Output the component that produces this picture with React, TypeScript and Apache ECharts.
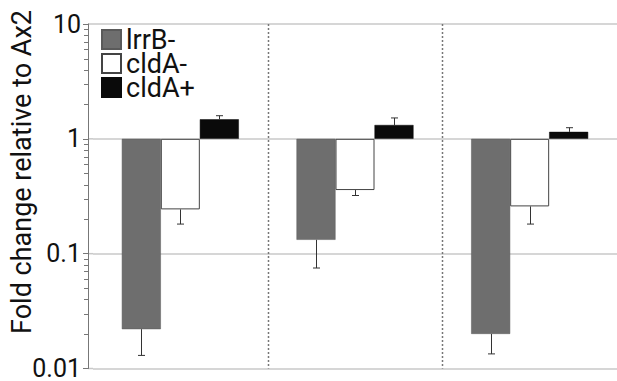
import React, { useEffect, useRef } from "react";
import * as echarts from "echarts";

const categories = ["Group 1", "Group 2", "Group 3"];
const seriesNames = ["lrrB-", "cldA-", "cldA+"];
const lrrBMinus = [0.022, 0.132, 0.02];
const lrrBMinusErr = [0.013, 0.075, 0.0134];
const cldAMinus = [0.243, 0.358, 0.258];
const cldAMinusErr = [0.181, 0.321, 0.181];
const cldAPlus = [1.48, 1.32, 1.15];
const cldAPlusErr = [1.59, 1.52, 1.25];
const yTickLabels = ["0.01", "0.1", "1", "10"];
const majorTicks = [0.01, 0.1, 1, 10];
const minorMultipliers = [2, 3, 4, 5, 6, 7, 8, 9];
const decades = [0.01, 0.1, 1];

const FONT = "Roboto";
const BAR_W = 39;
const AXIS_OFFSET = 5;

export default function App() {
  const ref = useRef<HTMLDivElement>(null);
  useEffect(() => {
    if (!ref.current) return;
    const chart = echarts.init(ref.current, null, { renderer: "svg" });

    const values = [lrrBMinus, cldAMinus, cldAPlus];
    const errs = [lrrBMinusErr, cldAMinusErr, cldAPlusErr];
    const errData: number[][] = [];
    values.forEach((arr, s) => {
      arr.forEach((v, i) => errData.push([i, v, errs[s][i], s - 1]));
    });
    const minorData: number[][] = [];
    decades.forEach((d) => minorMultipliers.forEach((m) => minorData.push([0, d * m])));
    const stubData: number[][] = majorTicks.map((t) => [0, t]);

    const option: any = {
      animation: false,
      backgroundColor: "#ffffff",
      textStyle: { fontFamily: FONT },
      grid: { left: 93, top: 24, width: 526.5, height: 350.5, containLabel: false },
      legend: {
        orient: "vertical",
        left: 101,
        top: 26,
        padding: 0,
        itemWidth: 19,
        itemHeight: 19,
        itemGap: -3,
        icon: "rect",
        data: seriesNames,
        textStyle: { fontFamily: FONT, fontSize: 27, color: "#111", lineHeight: 19 },
      },
      xAxis: {
        type: "category",
        data: categories,
        axisLine: { show: false },
        axisTick: { show: false },
        axisLabel: { show: false },
        splitLine: { show: false },
      },
      yAxis: {
        type: "log",
        logBase: 10,
        min: 0.01,
        max: 10,
        offset: AXIS_OFFSET,
        axisLine: { show: true, lineStyle: { color: "#777", width: 1 } },
        axisTick: { show: true, length: 5, inside: false, lineStyle: { color: "#777" } },
        axisLabel: {
          margin: 7,
          fontFamily: FONT,
          fontSize: 25,
          color: "#111",
          formatter: (v: number) => {
            const idx = Math.round(Math.log10(v)) + 2;
            return yTickLabels[idx] ?? String(v);
          },
        },
        splitLine: { show: true, lineStyle: { color: "#c8c8c8", width: 1.5 } },
      },
      graphic: [
        {
          type: "text",
          x: 22,
          y: 172,
          rotation: Math.PI / 2,
          style: {
            text: "Fold change relative to Ax2",
            font: `27px ${FONT}`,
            fill: "#111",
            align: "center",
            verticalAlign: "middle",
          },
        },
      ],
      series: [
        {
          name: seriesNames[0],
          type: "bar",
          data: lrrBMinus,
          barWidth: BAR_W,
          barGap: "0%",
          itemStyle: { color: "#6e6e6e", borderColor: "#5a5a5a", borderWidth: 0.5 },
        },
        {
          name: seriesNames[1],
          type: "bar",
          data: cldAMinus,
          barWidth: BAR_W,
          barGap: "0%",
          itemStyle: { color: "#ffffff", borderColor: "#444", borderWidth: 1 },
        },
        {
          name: seriesNames[2],
          type: "bar",
          data: cldAPlus,
          barWidth: BAR_W,
          barGap: "0%",
          itemStyle: { color: "#0a0a0a", borderColor: "#0a0a0a", borderWidth: 0.5 },
        },
        {
          type: "custom",
          name: "errors",
          data: errData,
          encode: { x: 0, y: 1 },
          z: 3,
          renderItem: (params: any, api: any) => {
            const cat = api.value(0);
            const v = api.value(1);
            const e = api.value(2);
            const off = api.value(3);
            const p1 = api.coord([cat, v]);
            const p2 = api.coord([cat, e]);
            const x = Math.round(p1[0] + off * BAR_W) + 0.5;
            const style = { stroke: "#333", lineWidth: 1 };
            return {
              type: "group",
              children: [
                { type: "line", shape: { x1: x, y1: p1[1], x2: x, y2: p2[1] }, style },
                { type: "line", shape: { x1: x - 3.5, y1: p2[1], x2: x + 3.5, y2: p2[1] }, style },
              ],
            };
          },
        },
        {
          type: "custom",
          name: "separators",
          data: [[1, 1], [2, 1]],
          encode: { x: 0, y: 1 },
          z: 1,
          renderItem: (params: any, api: any) => {
            const bw = api.size([1, 0])[0];
            const x = Math.round(api.coord([api.value(0), 1])[0] - bw / 2) + 0.5;
            const cs = params.coordSys;
            return {
              type: "line",
              shape: { x1: x, y1: cs.y, x2: x, y2: cs.y + cs.height },
              style: { stroke: "#777", lineWidth: 1.5, lineDash: [2, 2] },
            };
          },
        },
        {
          type: "custom",
          name: "minorTicks",
          data: minorData,
          encode: { x: 0, y: 1 },
          z: 2,
          clip: false,
          renderItem: (params: any, api: any) => {
            const y = Math.round(api.coord([0, api.value(1)])[1]) + 0.5;
            const x0 = params.coordSys.x - AXIS_OFFSET;
            return {
              type: "line",
              shape: { x1: x0 - 4, y1: y, x2: x0, y2: y },
              style: { stroke: "#777", lineWidth: 1 },
            };
          },
        },
        {
          type: "custom",
          name: "gridStubs",
          data: stubData,
          encode: { x: 0, y: 1 },
          z: 0,
          clip: false,
          renderItem: (params: any, api: any) => {
            const y = api.coord([0, api.value(1)])[1];
            const x0 = params.coordSys.x - AXIS_OFFSET;
            return {
              type: "line",
              shape: { x1: x0, y1: y, x2: params.coordSys.x, y2: y },
              style: { stroke: "#c8c8c8", lineWidth: 1.5 },
            };
          },
        },
      ],
    };
    chart.setOption(option);
    return () => chart.dispose();
  }, []);

  return (
    <div
      ref={ref}
      style={{ position: "fixed", left: 0, top: 0, width: 617, height: 381 }}
    />
  );
}
